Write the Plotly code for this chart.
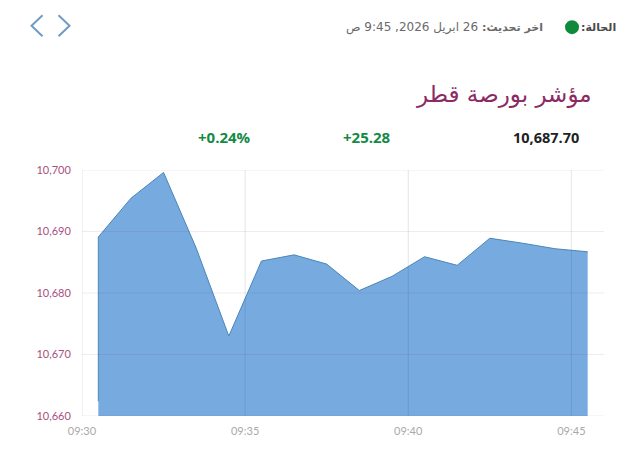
import plotly.graph_objects as go

# index values, one reading per minute
times = ["2026-04-26 09:30:30", "2026-04-26 09:30:30", "2026-04-26 09:31:30", "2026-04-26 09:32:30",
         "2026-04-26 09:33:30", "2026-04-26 09:34:30", "2026-04-26 09:35:30", "2026-04-26 09:36:30",
         "2026-04-26 09:37:30", "2026-04-26 09:38:30", "2026-04-26 09:39:30", "2026-04-26 09:40:30",
         "2026-04-26 09:41:30", "2026-04-26 09:42:30", "2026-04-26 09:43:30", "2026-04-26 09:44:30",
         "2026-04-26 09:45:30"]
values = [10662.4, 10689.1, 10695.4, 10699.6, 10687.3, 10673.0, 10685.2, 10686.2,
          10684.7, 10680.4, 10682.7, 10685.9, 10684.5, 10688.9, 10688.1, 10687.2, 10686.7]
x_range = ["2026-04-26 09:30:00", "2026-04-26 09:46:00"]
x_ticks = ["2026-04-26 09:30:00", "2026-04-26 09:35:00", "2026-04-26 09:40:00", "2026-04-26 09:45:00"]
y_ticks = [10660, 10670, 10680, 10690, 10700]

title_text = "مؤشر بورصة قطر"
status_label = "الحالة:"
update_label = "اخر تحديث:"
update_value = "26 ابريل 2026, 9:45 ص"
last_value = "10,687.70"
change_value = "+25.28"
change_pct = "+0.24%"

# the page body has an 8px margin, so the figure sits 8px in from the window edge
PAGE = 8
W, H = 624, 458
L, R, T, B = 73.5, 28, 162, 49.7
ARABIC = "DejaVu Sans"
LATIN = "Open Sans"
GREEN = "#148a45"
PLUM = "#8c2a63"
CLEAR = "rgba(0,0,0,0)"


def px(x):
    return (x - PAGE - L) / (W - L - R)


def py(y):
    return 1 - (y - PAGE - T) / (H - T - B)


def label(text, x, y, size, color, font=LATIN, anchor="left"):
    # x, y are pixels from the top left of the window
    return dict(text=text, x=px(x), y=py(y), xref="paper", yref="paper", xanchor=anchor,
                yanchor="middle", showarrow=False, font=dict(family=font, size=size, color=color))


def rtl(text):
    return f"\u202b{text}\u202c"


def chevron(x_tip, x_back):
    return dict(type="path", xref="paper", yref="paper", line=dict(color="#6f9bc4", width=2),
                path=f"M {px(x_back)} {py(15)} L {px(x_tip)} {py(25.5)} L {px(x_back)} {py(36)}")


fig = go.Figure(go.Scatter(x=times, y=values, mode="lines", fill="tozeroy",
                           line=dict(color="#4a86b8", width=1),
                           fillcolor="rgba(66,138,212,0.72)",
                           hovertemplate="%{x}<br>%{y}<extra></extra>"))

fig.update_layout(
    width=W, height=H, autosize=False,
    margin=dict(l=L, r=R, t=T, b=B, pad=0),
    paper_bgcolor="white", plot_bgcolor="white", showlegend=False,
    xaxis=dict(type="date", range=x_range, tickvals=x_ticks, tickformat="%H:%M", showgrid=False,
               showline=False, zeroline=False, ticks="outside", ticklen=5, tickcolor=CLEAR,
               tickfont=dict(family="Lato", size=11, color="#a9a9a9")),
    yaxis=dict(range=[10660, 10700], tickvals=y_ticks, tickformat=",d", showgrid=False,
               showline=False, zeroline=False, ticks="outside", ticklen=8, tickcolor=CLEAR,
               tickfont=dict(family="Lato", size=11, color="#a8507f")),
    annotations=[
        label(f"<b>{rtl(status_label)}</b>", 618, 27, 11, "#4a4a4a", ARABIC, "right"),
        label(f"<b>{rtl(update_label)}</b>", 545, 27, 11, "#6a6a6a", ARABIC, "right"),
        label(rtl(update_value), 480, 27, 12, "#6a6a6a", ARABIC, "right"),
        label(title_text, 594, 94, 23, PLUM, ARABIC, "right"),
        label(f"<b>{last_value}</b>", 581, 137, 14.5, "#222222", LATIN, "right"),
        label(f"<b>{change_value}</b>", 393, 137, 15, GREEN, LATIN, "right"),
        label(f"<b>{change_pct}</b>", 253, 137, 15, GREEN, LATIN, "right"),
    ],
    shapes=[
        dict(type="circle", xref="paper", yref="paper", x0=px(565), x1=px(579),
             y0=py(34), y1=py(20), fillcolor="#0f8a3c", line_width=0),
        chevron(31, 42),
        chevron(69, 58),
    ],
)

# the grid sits over the area in the original, so it is drawn above the trace
for t in x_ticks:
    fig.add_vline(x=t, line_color="rgba(20,20,60,0.11)", line_width=1, layer="above")
for v in y_ticks:
    fig.add_hline(y=v, line_color="rgba(120,20,70,0.09)", line_width=1, layer="above")

fig.write_html("out.html")
